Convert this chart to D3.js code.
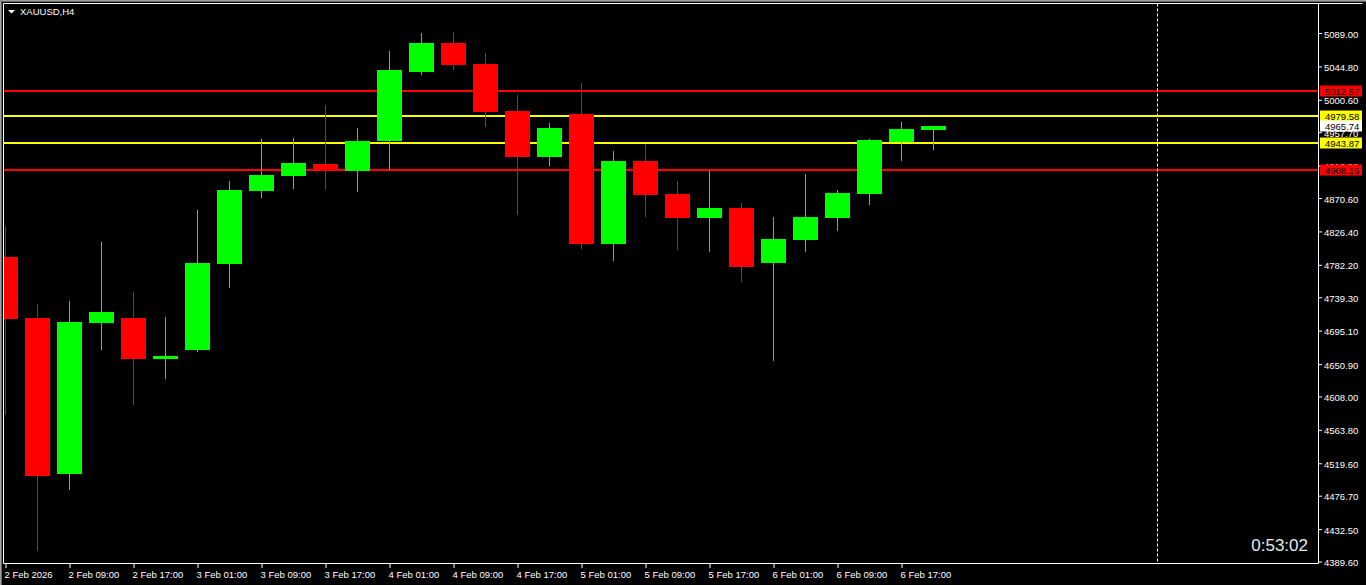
<!DOCTYPE html>
<html>
<head>
<meta charset="utf-8">
<script src="https://cdn.jsdelivr.net/npm/d3@7"></script>
<style>
  html, body { margin: 0; padding: 0; background: #000; overflow: hidden; }
  svg { display: block; }
  text { font-family: "Liberation Sans", Arial, sans-serif; }
</style>
</head>
<body>
<div id="chart"></div>
<script>
// XAUUSD H4, 2 Feb 01:00 .. 6 Feb 21:00
const symbol = 'XAUUSD,H4';
const opens  = [4793.2, 4711.3, 4505.6, 4704.7, 4711.3, 4657.1, 4669.0, 4782.7, 4880.4, 4900.2,
                4916.1, 4906.9, 4946.5, 5037.6, 5076.0, 5048.2, 4986.1, 4925.3, 4982.2, 4810.4,
                4920.1, 4876.5, 4844.8, 4858.0, 4784.0, 4815.7, 4844.8, 4876.5, 4945.2, 4961.0];
const highs  = [4834.2, 4729.8, 4733.8, 4813.0, 4745.7, 4712.6, 4855.3, 4893.6, 4949.1, 4950.4,
                4994.0, 4963.7, 5065.4, 5089.2, 5090.5, 5062.7, 5007.3, 4970.3, 5023.1, 4933.3,
                4942.5, 4893.6, 4906.9, 4864.6, 4846.1, 4902.9, 4881.7, 4949.1, 4971.6, 4966.5];
const lows   = [4583.2, 4403.9, 4484.5, 4669.0, 4596.8, 4631.1, 4667.5, 4751.0, 4871.2, 4883.1,
                4881.7, 4879.1, 4908.2, 5033.7, 5040.3, 4965.0, 4848.7, 4913.5, 4803.8, 4787.9,
                4846.1, 4801.2, 4799.8, 4758.9, 4654.5, 4799.8, 4827.6, 4861.9, 4920.1, 4934.6];
const closes = [4710.0, 4503.0, 4706.0, 4719.2, 4657.1, 4661.1, 4784.0, 4881.7, 4901.6, 4917.4,
                4906.0, 4946.5, 5040.3, 5076.0, 5046.9, 4984.8, 4925.3, 4963.7, 4810.4, 4920.1,
                4875.1, 4844.8, 4858.0, 4778.7, 4817.0, 4846.1, 4877.8, 4947.8, 4962.3, 4965.74];

// time axis labels, one every 2 bars
const timeLabels = ['2 Feb 2026', '2 Feb 09:00', '2 Feb 17:00', '3 Feb 01:00', '3 Feb 09:00',
                    '3 Feb 17:00', '4 Feb 01:00', '4 Feb 09:00', '4 Feb 17:00', '5 Feb 01:00',
                    '5 Feb 09:00', '5 Feb 17:00', '6 Feb 01:00', '6 Feb 09:00', '6 Feb 17:00'];
const priceTicks = [5089.00, 5044.80, 5000.60, 4957.70, 4913.50, 4870.60, 4826.40, 4782.20,
                    4739.30, 4695.10, 4650.90, 4608.00, 4563.80, 4519.60, 4476.70, 4432.50, 4389.60];

// horizontal levels
const redLevels = [5012.57, 4908.15];
const yellowLevels = [4979.58, 4943.87];
const lastPrice = 4965.74;
const markerBar = 36;       // dashed vertical line
const timer = '0:53:02';

const W = 1366, H = 585;
const plot = {left: 3.5, top: 3.5, right: 1318.5, bottom: 563.5};

const svg = d3.select('#chart').append('svg')
  .attr('width', W).attr('height', H)
  .attr('viewBox', `0 0 ${W} ${H}`);

svg.append('rect').attr('width', W).attr('height', H).attr('fill', '#000');

const x = d3.scaleLinear().domain([0, 1]).range([5.5, 37.5]);
const y = d3.scaleLinear().domain([4389.6, 5089.0]).range([561.5, 33]);

const bars = opens.map((o, i) => ({i, o, h: highs[i], l: lows[i], c: closes[i]}));

svg.append('clipPath').attr('id', 'plotclip')
  .append('rect')
  .attr('x', plot.left + 0.5).attr('y', plot.top + 0.5)
  .attr('width', plot.right - plot.left - 1).attr('height', plot.bottom - plot.top - 1);

const g = svg.append('g').attr('clip-path', 'url(#plotclip)');

// price axis (right)
const yAxis = d3.axisRight(y)
  .tickValues(priceTicks)
  .tickFormat(d3.format('.2f'))
  .tickSize(3)
  .tickPadding(2);
const ya = svg.append('g').attr('transform', `translate(${plot.right + 0.5},0)`).call(yAxis);
ya.select('.domain').remove();
ya.selectAll('line').attr('stroke', '#fff');
ya.selectAll('text').attr('fill', '#fff').attr('font-size', '9.5px').attr('dy', '0.42em')
  .style('font-family', '"Liberation Sans", Arial, sans-serif');

// time axis (bottom)
const xAxis = d3.axisBottom(x)
  .tickValues(d3.range(0, timeLabels.length * 2, 2))
  .tickFormat((d, i) => timeLabels[i])
  .tickSize(4)
  .tickPadding(3);
const xa = svg.append('g').attr('transform', `translate(0,${plot.bottom + 0.5})`).call(xAxis);
xa.select('.domain').remove();
xa.selectAll('line').attr('stroke', '#fff');
xa.selectAll('text').attr('fill', '#fff').attr('font-size', '9.5px')
  .attr('text-anchor', 'start').attr('x', -1.5)
  .style('font-family', '"Liberation Sans", Arial, sans-serif');

// level lines
const levels = redLevels.map(v => ({v, col: '#ff0000'}))
  .concat(yellowLevels.map(v => ({v, col: '#ffff00'})));
g.selectAll('.level').data(levels).enter().append('line')
  .attr('x1', plot.left).attr('x2', plot.right)
  .attr('y1', d => Math.round(y(d.v))).attr('y2', d => Math.round(y(d.v)))
  .attr('stroke', d => d.col).attr('stroke-width', 2);

// dashed marker
g.append('line')
  .attr('x1', x(markerBar)).attr('x2', x(markerBar))
  .attr('y1', plot.top).attr('y2', plot.bottom)
  .attr('stroke', '#fff').attr('stroke-dasharray', '3,2');

// candles
const bull = '#00ff00', bear = '#ff0000';
const cg = g.selectAll('.candle').data(bars).enter().append('g').attr('class', 'candle');
cg.append('line')
  .attr('x1', d => x(d.i)).attr('x2', d => x(d.i))
  .attr('y1', d => Math.round(y(d.h))).attr('y2', d => Math.round(y(d.l)))
  .attr('stroke', d => d.c >= d.o ? bull : bear).attr('stroke-width', 1);
cg.append('rect')
  .attr('x', d => x(d.i) - 12.5)
  .attr('width', 25)
  .attr('y', d => Math.round(y(Math.max(d.o, d.c))))
  .attr('height', d => Math.max(3, Math.round(y(Math.min(d.o, d.c))) - Math.round(y(Math.max(d.o, d.c)))))
  .attr('fill', d => d.c >= d.o ? bull : bear);

// frame
svg.append('path')
  .attr('d', `M${plot.left},${plot.bottom} V${plot.top} H${W - 3.5} M${plot.right},${plot.top} V${plot.bottom} H${plot.left}`)
  .attr('fill', 'none').attr('stroke', '#fff');
svg.append('path')
  .attr('d', `M0.5,${H} V0.5 H${W}`)
  .attr('fill', 'none').attr('stroke', '#a0a0a0').attr('stroke-width', 1);
svg.append('path')
  .attr('d', `M1.5,${H} V1.5 H${W}`)
  .attr('fill', 'none').attr('stroke', '#696969').attr('stroke-width', 1);

// price tags
const tags = redLevels.map(v => ({v, bg: '#ff0000'}))
  .concat(yellowLevels.map(v => ({v, bg: '#ffff00'})))
  .concat([{v: lastPrice, bg: '#ffffff'}]);
const tg = svg.selectAll('.tag').data(tags).enter().append('g')
  .attr('transform', d => `translate(${plot.right + 1.5},${Math.round(y(d.v))})`);
tg.append('rect').attr('x', 0).attr('y', -5.5).attr('width', 42).attr('height', 11)
  .attr('fill', d => d.bg);
tg.append('text').attr('x', 5).attr('y', 4)
  .attr('font-size', '9.5px').attr('fill', '#000')
  .text(d => d3.format('.2f')(d.v));

// title
svg.append('path').attr('d', 'M8,10 L15,10 L11.5,13.5 Z').attr('fill', '#fff');
svg.append('text').attr('x', 20).attr('y', 15)
  .attr('font-size', '9.5px').attr('fill', '#fff').text(symbol);

// countdown
svg.append('text').attr('x', 1308).attr('y', 551).attr('text-anchor', 'end')
  .attr('font-size', '17px').attr('fill', '#e8e8e8').text(timer);
</script>
</body>
</html>
